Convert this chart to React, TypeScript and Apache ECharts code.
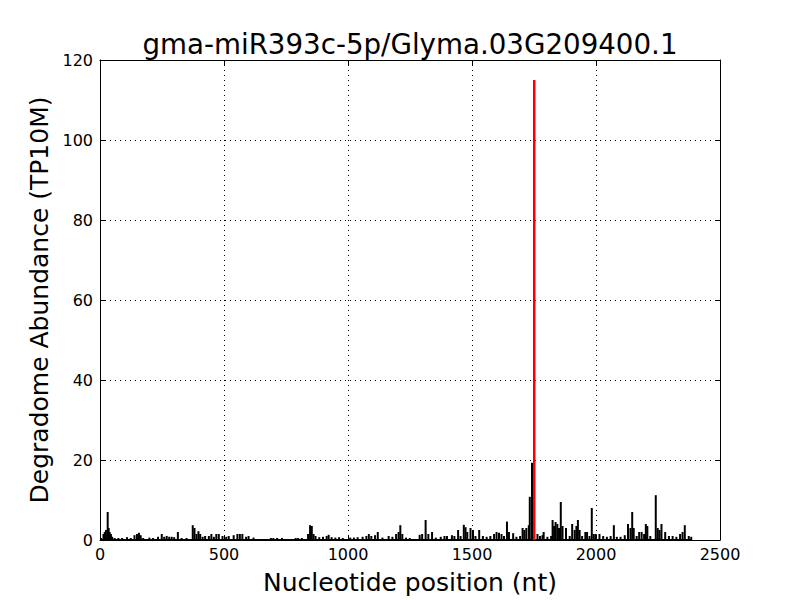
import React, { useEffect, useRef } from "react";
import * as echarts from "echarts";

const titleText = "gma-miR393c-5p/Glyma.03G209400.1";
const xName = "Nucleotide position (nt)";
const yName = "Degradome Abundance (TP10M)";
const transcriptLength = 2385;

const positions = [
  5, 15, 20, 25, 32, 36, 40, 45, 50, 60, 75, 90, 110, 125, 140, 150, 158, 165, 175, 200, 215, 235, 250, 260, 270, 280, 290, 300, 315, 330, 350,
  375, 382, 390, 398, 405, 415, 425, 440, 450, 460, 470, 480, 495, 510, 520, 540, 555, 565, 575, 590, 600, 620, 690, 700, 715, 735, 790, 800, 815,
  840, 848, 855, 862, 870, 885, 900, 915, 923, 935, 950, 965, 980, 1010, 1025, 1040, 1060, 1075, 1085, 1095, 1110, 1121, 1140, 1165, 1180, 1195,
  1205, 1212, 1220, 1235, 1250, 1290, 1300, 1314, 1325, 1340, 1355, 1375, 1390, 1400, 1420, 1430, 1445, 1455, 1468, 1475, 1482, 1495, 1505, 1515,
  1530, 1545, 1560, 1575, 1590, 1600, 1610, 1620, 1630, 1642, 1650, 1667, 1680, 1695, 1705, 1712, 1720, 1730, 1734, 1743,
  1765, 1775, 1785, 1790, 1805, 1820, 1826, 1832, 1838, 1845, 1852, 1859, 1866, 1880, 1895, 1905, 1915, 1922, 1928, 1935, 1945, 1958, 1965, 1975,
  1984, 1992, 2000, 2015, 2030, 2045, 2060, 2073, 2085, 2100, 2117, 2130, 2140, 2147, 2153, 2165, 2175, 2185, 2195, 2202, 2208, 2220, 2242, 2250,
  2257, 2265, 2280, 2295, 2310, 2325, 2340, 2350, 2359, 2375, 2385,
];
const values = [
  0.5, 1.5, 2, 2.5, 7, 3, 2, 1.5, 0.8, 0.5, 0.5, 0.5, 0.7, 0.5, 1.2, 1.5, 1.8, 1.2, 0.5, 0.6, 0.5, 0.8, 1.5, 0.8, 1, 0.8, 0.8, 0.7, 2, 0.5, 0.5,
  3.7, 3, 1.5, 2.2, 1.5, 0.8, 1, 1, 1.5, 0.8, 1.5, 1.5, 1, 0.8, 1, 1.2, 1.5, 1.5, 1.5, 0.8, 1, 0.6, 0.5, 0.5, 0.5, 0.5, 0.5, 0.5, 0.5,
  1.5, 3.7, 3.5, 1.5, 1, 0.7, 0.8, 1, 1.3, 0.7, 0.6, 0.7, 0.5, 0.6, 0.6, 0.7, 0.8, 1, 1.5, 1, 1.2, 2, 0.6, 1, 0.8, 1.5,
  2, 3.7, 1.5, 0.6, 0.5, 1.3, 1.5, 5, 1.5, 2, 0.6, 0.8, 1, 1, 1.2, 1, 2.5, 1, 3.8, 3.2, 2, 3, 2.5, 1,
  2.5, 1, 0.8, 1, 1.5, 2, 1.8, 1.5, 1, 4.6, 2, 1.7, 0.8, 1, 3, 2.5, 3, 3.7, 10.8, 19.3,
  1.5, 1, 1.2, 2, 0.8, 1, 5, 3.5, 4.5, 4, 3, 9.5, 3.5, 3, 1, 4, 2.5, 3.5, 5, 2.5, 1, 2, 2, 1,
  8, 1.5, 1.5, 1.5, 1, 0.8, 1, 3.7, 0.8, 0.8, 1.2, 4, 3, 7, 3, 1, 2, 2, 1.5, 4, 3.5, 1, 11.2, 3,
  2.5, 4, 2, 1, 1, 0.8, 1.5, 2, 3.7, 1, 0.8,
];
const targetPositions = [1751];
const targetValues = [115];

const font = "DejaVu Sans";

export default function App() {
  const ref = useRef<HTMLDivElement>(null);
  useEffect(() => {
    if (!ref.current) return;
    const chart = echarts.init(ref.current, null, { renderer: "svg" });
    const blackData = positions.map((p, i) => [p, values[i]]);
    const redData = targetPositions.map((p, i) => [p, targetValues[i]]);
    const axisCommon = {
      type: "value" as const,
      axisLine: { show: true, onZero: false, lineStyle: { color: "#000", width: 1 } },
      axisTick: { show: true, inside: true, length: 5, lineStyle: { color: "#000" } },
    };
    const plainLabel = (v: number) => String(v);
    chart.setOption({
      animation: false,
      backgroundColor: "#fff",
      textStyle: { fontFamily: font },
      grid: { left: 100, right: 80, top: 60, bottom: 60, containLabel: false },
      graphic: [
        {
          type: "text",
          x: 410,
          y: 44,
          style: {
            text: titleText,
            font: `27.7px "${font}"`,
            fill: "#000",
            textAlign: "center",
            textVerticalAlign: "middle",
          },
        },
      ],
      xAxis: [
        {
          ...axisCommon,
          position: "bottom",
          min: 0,
          max: 2500,
          interval: 500,
          name: xName,
          nameLocation: "middle",
          nameGap: 30,
          nameTextStyle: { fontSize: 25, color: "#000", fontFamily: font, verticalAlign: "top" },
          axisLabel: { fontSize: 16, color: "#000", fontFamily: font, margin: 6, formatter: plainLabel },
          splitLine: { show: true, lineStyle: { color: "#000", type: [1, 4], width: 1 } },
        },
        {
          ...axisCommon,
          position: "top",
          min: 0,
          max: 2500,
          interval: 500,
          axisLabel: { show: false },
          splitLine: { show: false },
        },
      ],
      yAxis: [
        {
          ...axisCommon,
          position: "left",
          min: 0,
          max: 120,
          interval: 20,
          name: yName,
          nameLocation: "middle",
          nameGap: 43,
          nameTextStyle: { fontSize: 25, color: "#000", fontFamily: font },
          axisLabel: { fontSize: 16, color: "#000", fontFamily: font, margin: 7, formatter: plainLabel },
          splitLine: { show: true, lineStyle: { color: "#000", type: [1, 4], width: 1 } },
        },
        {
          ...axisCommon,
          position: "right",
          min: 0,
          max: 120,
          interval: 20,
          axisLabel: { show: false },
          splitLine: { show: false },
        },
      ],
      series: [
        {
          type: "line",
          data: [
            [0, 0],
            [transcriptLength, 0],
          ],
          symbol: "none",
          lineStyle: { color: "#000", width: 2 },
          silent: true,
          z: 3,
        },
        {
          type: "bar",
          data: blackData,
          barWidth: 2,
          itemStyle: { color: "#000" },
          silent: true,
          z: 3,
        },
        {
          type: "bar",
          data: redData,
          barWidth: 2.5,
          barGap: "-100%",
          itemStyle: { color: "#ff0000" },
          silent: true,
          z: 4,
        },
      ],
    });
    return () => chart.dispose();
  }, []);
  return (
    <div
      ref={ref}
      style={{ position: "fixed", left: 0, top: 0, width: 800, height: 600 }}
    />
  );
}
